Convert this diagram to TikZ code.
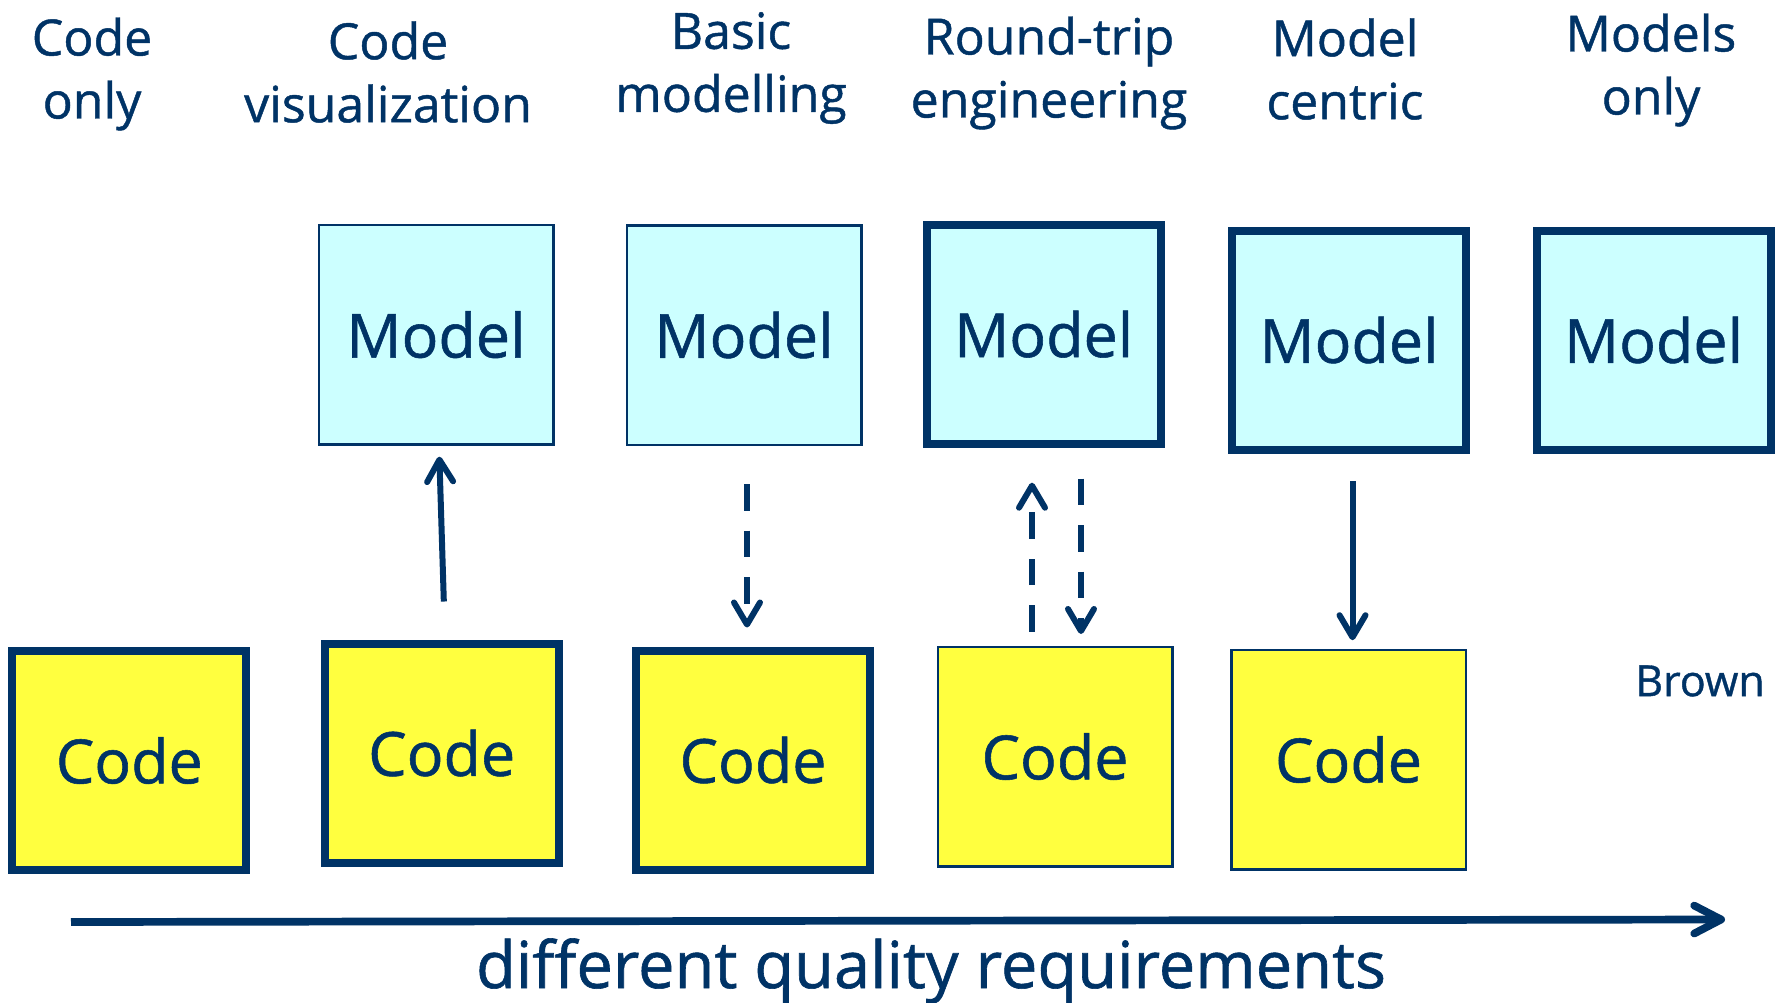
\documentclass[tikz,border=0pt]{standalone}
\usepackage{fontspec}
\setmainfont{Open Sans}[FakeBold=0.9]
\usetikzlibrary{arrows.meta,calc}
\definecolor{navy}{HTML}{003366}
\definecolor{cyanfill}{HTML}{CCFFFF}
\definecolor{yellowfill}{HTML}{FFFF3F}
\begin{document}
\begin{tikzpicture}[x=1pt,y=-1pt,
  box/.style={draw=navy,rectangle,inner sep=0pt,text=navy,font=\fontsize{61}{72}\selectfont},
  thinbox/.style={box,line width=2.5pt,minimum width=234.5pt,minimum height=219.5pt},
  thickbox/.style={box,line width=8pt,minimum width=234pt,minimum height=219pt},
  modelbox/.style={fill=cyanfill},
  codebox/.style={fill=yellowfill},
  head/.style={text=navy,align=center,inner sep=0pt,font=\fontsize{50}{63}\selectfont},
  conn/.style={draw=navy,line width=6pt,-{Straight Barb[length=22pt,width=26pt,round]}},
  dashconn/.style={conn,dash pattern=on 26.5pt off 20pt},
  axisarrow/.style={draw=navy,line width=7.7pt,-{Straight Barb[length=27pt,width=28pt,round]}},
]
\useasboundingbox (0,0) rectangle (1785,1003);
\fill[white] (0,0) rectangle (1785,1003);

% headers
\node[head] (h1) at (92,74) {Code\\only};
\node[head] (h2) at (388,72) {Code\\visualization};
\node[head] (h3) at (731,68) {Basic\\modelling};
\node[head] (h4) at (1049,73) {Round-trip\\engineering};
\node[head] (h5) at (1345,69) {Model\\centric};
\node[head] (h6) at (1651,70) {Models\\only};

% model boxes
\node[thinbox,modelbox] (m1) at (436,334.7) {Model};
\node[thinbox,modelbox] (m2) at (744,335) {Model};
\node[thickbox,modelbox] (m3) at (1043.7,334.2) {Model};
\node[thickbox,modelbox] (m4) at (1349,340) {Model};
\node[thickbox,modelbox] (m5) at (1653.5,340) {Model};

% code boxes
\node[thickbox,codebox] (c1) at (129.3,760.5) {Code};
\node[thickbox,codebox] (c2) at (441.7,753) {Code};
\node[thickbox,codebox] (c3) at (753,760) {Code};
\node[thinbox,codebox] (c4) at (1055,756.5) {Code};
\node[thinbox,codebox] (c5) at (1348.5,759.5) {Code};

% connectors
\draw[conn,shorten <=38pt,shorten >=11pt] ([xshift=3.3pt]c2.north) -- ([xshift=3pt]m1.south);
\draw[dashconn,shorten <=38pt,shorten >=19pt] ([xshift=3pt]m2.south) -- ([xshift=3pt]m2.south |- c3.north);
\draw[dashconn,shorten <=14pt,shorten >=35pt] ([xshift=-23pt]c4.north) -- ([xshift=-23pt]c4.north |- m3.south);
\draw[dashconn,shorten <=31pt,shorten >=11.5pt] ([xshift=37.3pt]m3.south) -- ([xshift=37.3pt]m3.south |- c4.north);
\draw[conn,shorten <=27.6pt,shorten >=8.3pt] ([xshift=3.5pt]m4.south) -- ([xshift=3.5pt]m4.south |- c5.north);

% axis
\coordinate (axs) at (71,922);
\coordinate (axe) at (1725,919.5);
\draw[axisarrow] (axs) -- (axe);
\node[text=navy,inner sep=0pt,font=\fontsize{65}{78}\selectfont] (axl) at (931,971) {different quality requirements};

\node[text=navy,inner sep=0pt,font=\fontsize{43}{52}\selectfont] (brown) at (1700,681) {Brown};
\end{tikzpicture}
\end{document}
